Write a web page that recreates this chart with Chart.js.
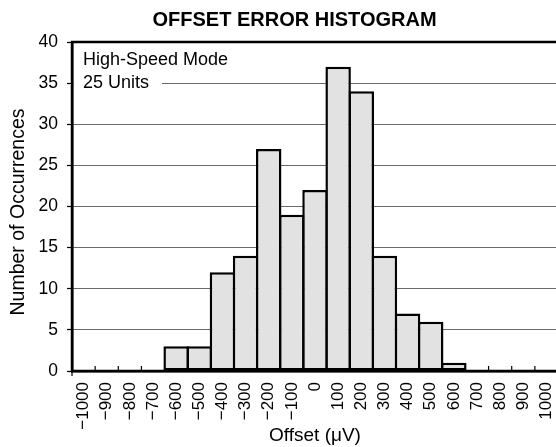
<!DOCTYPE html>
<html lang="en">
<head>
<meta charset="utf-8">
<title>Offset Error Histogram</title>
<script src="https://cdn.jsdelivr.net/npm/chart.js@4.4.1/dist/chart.umd.min.js"></script>
<style>
  html, body { margin: 0; padding: 0; background: #fff; overflow: hidden; }
  #contenedor { width: 560px; height: 447px; }
</style>
</head>
<body>
<div id="contenedor"><canvas id="graficoHistograma" width="560" height="447"></canvas></div>
<script>
// Histograma del error de offset (25 unidades, modo alta velocidad)

const etiquetasOffset = [
  '−1000', '−900', '−800', '−700', '−600', '−500', '−400', '−300', '−200', '−100',
  '0', '100', '200', '300', '400', '500', '600', '700', '800', '900', '1000',
];
const ocurrencias = [0, 0, 0, 0, 3, 3, 12, 14, 27, 19, 22, 37, 34, 14, 7, 6, 1, 0, 0, 0, 0];

const yMin = 0;
const yMax = 40;
const yPaso = 5;

const tituloGrafico = 'OFFSET ERROR HISTOGRAM';
const tituloEjeX = 'Offset (μV)';
const tituloEjeY = 'Number of Occurrences';
const notaModo = ['High-Speed Mode', '25 Units'];

const fuente = '"Liberation Sans", Arial, Helvetica, sans-serif';

document.addEventListener("DOMContentLoaded", () => {
  renderHistograma();
});

// ===================== PLUGIN DE ROTULOS =====================

const rotulosPlugin = {
  id: 'rotulos',
  afterDatasetsDraw(chart) {
    const { ctx, chartArea: area, scales: { x } } = chart;
    ctx.save();

    // marcas interiores del eje X en el borde de cada intervalo
    ctx.strokeStyle = '#000';
    ctx.lineWidth = 1.2;
    ctx.beginPath();
    for (let i = 1; i < etiquetasOffset.length; i++) {
      const px = (x.getPixelForValue(i - 1) + x.getPixelForValue(i)) / 2;
      ctx.moveTo(px, area.bottom);
      ctx.lineTo(px, area.bottom - 5);
    }
    // el eje Y baja un poco por debajo del cero
    ctx.moveTo(area.left, area.bottom);
    ctx.lineTo(area.left, area.bottom + 5);
    ctx.stroke();

    // recuadro blanco con la nota del modo
    ctx.fillStyle = '#fff';
    ctx.fillRect(area.left + 2, area.top + 5, 88, 48);
    ctx.fillStyle = '#000';
    ctx.font = `18px ${fuente}`;
    ctx.textAlign = 'left';
    ctx.textBaseline = 'middle';
    ctx.fillText(notaModo[0], area.left + 11, area.top + 18);
    ctx.fillText(notaModo[1], area.left + 11, area.top + 41.5);

    // marco: arriba, izquierda y abajo
    ctx.lineWidth = 2.5;
    ctx.beginPath();
    ctx.moveTo(area.right, area.top);
    ctx.lineTo(area.left, area.top);
    ctx.lineTo(area.left, area.bottom);
    ctx.lineTo(area.right, area.bottom);
    ctx.stroke();
    ctx.restore();
  },
  afterDraw(chart) {
    const { ctx, chartArea: area } = chart;
    ctx.save();
    ctx.fillStyle = '#000';
    ctx.textAlign = 'center';
    ctx.textBaseline = 'middle';

    ctx.font = `bold 20px ${fuente}`;
    ctx.fillText(tituloGrafico, area.left + 222.5, 20);

    ctx.font = `19.5px ${fuente}`;
    ctx.translate(19, (area.top + area.bottom) / 2 + 5.5);
    ctx.rotate(-Math.PI / 2);
    ctx.fillText(tituloEjeY, 0, 0);
    ctx.restore();
  },
};

// ===================== HISTOGRAMA =====================

function renderHistograma() {
  const canvas = document.getElementById("graficoHistograma");
  if (!canvas || typeof Chart === "undefined") return;

  new Chart(canvas.getContext("2d"), {
    type: "bar",
    data: {
      labels: etiquetasOffset,
      datasets: [{
        label: "Occurrences",
        data: ocurrencias,
        backgroundColor: "#e1e2e1",
        borderColor: "#000",
        borderWidth: 2.5,
        borderSkipped: false,
        barPercentage: 1.1,
        categoryPercentage: 1,
      }],
    },
    options: {
      responsive: false,
      animation: false,
      layout: { padding: { top: 42, right: 2, bottom: 0, left: 0 } },
      scales: {
        x: {
          offset: true,
          grid: { display: false, drawTicks: false },
          border: { display: true, color: "#000", width: 2.5 },
          ticks: {
            autoSkip: false,
            minRotation: 90,
            maxRotation: 90,
            padding: 11,
            color: "#000",
            font: { family: fuente, size: 17 },
          },
          title: {
            display: true,
            text: tituloEjeX,
            color: "#000",
            font: { family: fuente, size: 19 },
            padding: { top: 0, bottom: 0 },
          },
          afterFit: (scale) => {
            scale.height = 76;
            scale.paddingLeft = 0;
            scale.paddingRight = 0;
          },
        },
        y: {
          min: yMin,
          max: yMax,
          grid: {
            color: "#6a6a6a",
            lineWidth: 1,
            tickLength: 5,
            tickColor: "#000",
            tickWidth: 1.2,
          },
          border: { display: true, color: "#000", width: 2.5 },
          ticks: {
            stepSize: yPaso,
            padding: 9,
            color: "#000",
            font: { family: fuente, size: 17.5 },
          },
          afterFit: (scale) => {
            scale.width = 72;
            scale.paddingTop = 0;
            scale.paddingBottom = 0;
          },
        },
      },
      plugins: {
        legend: { display: false },
        tooltip: { enabled: false },
      },
    },
    plugins: [rotulosPlugin],
  });
}
</script>
</body>
</html>
